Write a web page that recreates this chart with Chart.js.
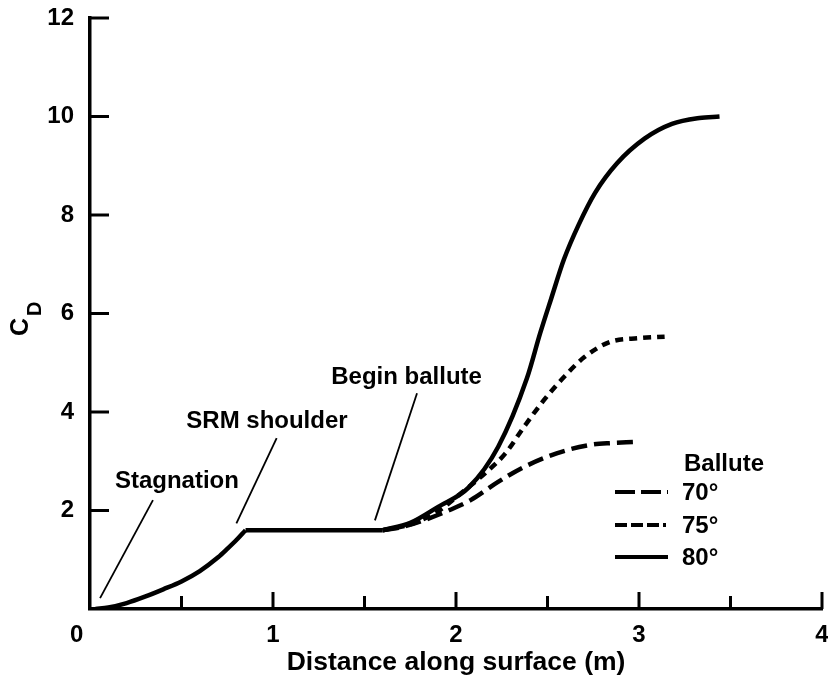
<!DOCTYPE html>
<html><head><meta charset="utf-8">
<script src="https://cdn.jsdelivr.net/npm/chart.js@4"></script>
<style>html,body{margin:0;padding:0;background:#fff}#wrap{width:828px;height:682px}</style>
</head><body><div id="wrap"><canvas id="c" width="828" height="682"></canvas></div>
<script>
// ---- data (x in m, y = C_D) ----
const riseX = [0.03, 0.1, 0.2, 0.3, 0.4, 0.5, 0.6, 0.7, 0.75, 0.8, 0.85];
const riseY = [0.0, 0.03, 0.12, 0.25, 0.4, 0.56, 0.77, 1.05, 1.22, 1.4, 1.6];
const flatX = [0.85, 1.6];
const flatY = [1.6, 1.6];
const x70 = [1.6, 1.7, 1.83, 1.96, 2.08, 2.23, 2.37, 2.55, 2.73, 2.85, 2.97];
const y70 = [1.6, 1.66, 1.81, 2.0, 2.21, 2.58, 2.88, 3.16, 3.33, 3.37, 3.39];
const x75 = [1.6, 1.75, 1.9, 2.01, 2.16, 2.27, 2.37, 2.48, 2.59, 2.70, 2.84, 3.0, 3.14];
const y75 = [1.6, 1.72, 1.98, 2.3, 2.76, 3.16, 3.69, 4.24, 4.71, 5.11, 5.42, 5.5, 5.53];
const x80 = [1.6, 1.75, 1.9, 2.07, 2.23, 2.388, 2.46, 2.52, 2.59, 2.67, 2.76, 2.88, 3.03, 3.18, 3.33, 3.44];
const y80 = [1.6, 1.75, 2.07, 2.47, 3.29, 4.69, 5.6, 6.3, 7.1, 7.8, 8.45, 9.05, 9.55, 9.85, 9.97, 10.0];
const seriesLabels = ['70°', '75°', '80°'];
const xTitle = 'Distance along surface (m)';
const legendTitle = 'Ballute';
const annTexts = ['Stagnation', 'SRM shoulder', 'Begin ballute'];

const FONT = "'Liberation Sans', Arial, Helvetica, sans-serif";
const pts = (xs, ys) => xs.map((x, i) => ({x: x, y: ys[i]}));

// annotation placement (data units)
const annPos = [
  {tx: 0.475, ty: 2.6, lx1: 0.055, ly1: 0.22, lx2: 0.344, ly2: 2.21},
  {tx: 0.967, ty: 3.81, lx1: 0.80, ly1: 1.74, lx2: 1.02, ly2: 3.47},
  {tx: 1.73, ty: 4.7, lx1: 1.557, ly1: 1.80, lx2: 1.787, ly2: 4.38}
];
const dashes = [[16, 7], [8, 6], []];

const extras = {
  id: 'extras',
  afterDatasetsDraw(chart) {
    const ctx = chart.ctx, xs = chart.scales.x, ys = chart.scales.y, ca = chart.chartArea;
    ctx.save();
    ctx.strokeStyle = '#000'; ctx.fillStyle = '#000';
    // inward ticks
    ctx.lineWidth = 3; ctx.lineCap = 'butt';
    xs.ticks.forEach(t => {
      if (t.value === 0) return;
      const px = xs.getPixelForValue(t.value);
      const len = Number.isInteger(t.value) ? 17 : 13;
      ctx.beginPath(); ctx.moveTo(px, ca.bottom); ctx.lineTo(px, ca.bottom - len); ctx.stroke();
    });
    ys.ticks.forEach(t => {
      if (t.value === 0) return;
      const py = ys.getPixelForValue(t.value);
      ctx.beginPath(); ctx.moveTo(ca.left, py); ctx.lineTo(ca.left + 19, py); ctx.stroke();
    });
    // annotations
    ctx.lineWidth = 1.8;
    ctx.font = 'bold 24px ' + FONT; ctx.textAlign = 'center'; ctx.textBaseline = 'middle';
    annPos.forEach((a, i) => {
      ctx.beginPath();
      ctx.moveTo(xs.getPixelForValue(a.lx1), ys.getPixelForValue(a.ly1));
      ctx.lineTo(xs.getPixelForValue(a.lx2), ys.getPixelForValue(a.ly2));
      ctx.stroke();
      ctx.fillText(annTexts[i], xs.getPixelForValue(a.tx), ys.getPixelForValue(a.ty));
    });
    // legend
    const lx = ca.left + 525, ltx = ca.left + 592;
    ctx.textAlign = 'left';
    ctx.fillText(legendTitle, ltx + 2, 464);
    const rowsY = [492, 525, 557];
    ctx.lineWidth = 4;
    seriesLabels.forEach((s, i) => {
      ctx.setLineDash(i === 0 ? [20, 6, 20, 6, 3, 100] : (i === 1 ? [12, 4, 12, 4, 12, 4, 3, 100] : []));
      ctx.beginPath(); ctx.moveTo(lx, rowsY[i]); ctx.lineTo(lx + 53, rowsY[i]); ctx.stroke();
      ctx.setLineDash([]);
      ctx.fillText(s, ltx, rowsY[i] + 1);
    });
    // y axis title C_D
    ctx.save();
    ctx.translate(28, 336); ctx.rotate(-Math.PI / 2);
    ctx.textBaseline = 'alphabetic'; ctx.textAlign = 'left';
    ctx.font = 'bold 25px ' + FONT; ctx.fillText('C', 0, 0);
    ctx.font = 'bold 20px ' + FONT; ctx.fillText('D', 20, 13);
    ctx.restore();
    ctx.restore();
  }
};

const lineDs = (data, dash) => ({
  data: data, borderColor: '#000', borderWidth: 4.5, borderDash: dash,
  pointRadius: 0, fill: false, cubicInterpolationMode: 'monotone', borderCapStyle: 'butt'
});

new Chart(document.getElementById('c'), {
  type: 'line',
  data: {
    datasets: [
      lineDs(pts(riseX, riseY), []),
      lineDs(pts(flatX, flatY), []),
      Object.assign(lineDs(pts(x70, y70), dashes[0]), {label: seriesLabels[0]}),
      Object.assign(lineDs(pts(x75, y75), dashes[1]), {label: seriesLabels[1]}),
      Object.assign(lineDs(pts(x80, y80), dashes[2]), {label: seriesLabels[2]})
    ]
  },
  options: {
    responsive: false, animation: false, devicePixelRatio: 1,
    layout: {padding: {top: 18, right: 6, left: 0, bottom: 0}},
    plugins: {legend: {display: false}, tooltip: {enabled: false}},
    scales: {
      x: {
        type: 'linear', min: 0, max: 4,
        ticks: {
          stepSize: 0.5, autoSkip: false, maxRotation: 0, padding: 12, color: '#000',
          font: {family: FONT, size: 24, weight: 'bold'},
          callback: v => Number.isInteger(v) ? (v === 0 ? '0\u2007\u2007' : String(v)) : ''
        },
        grid: {display: false, drawTicks: false},
        border: {display: true, width: 3.5, color: '#000'},
        title: {display: true, text: xTitle, color: '#000', font: {family: FONT, size: 26.5, weight: 'bold'}, padding: {top: 0, bottom: 3}},
        afterFit: s => { s.height = 73; s.paddingLeft = 0; s.paddingRight = 0; }
      },
      y: {
        min: 0, max: 12,
        ticks: {
          stepSize: 2, padding: 16, color: '#000',
          font: {family: FONT, size: 24, weight: 'bold'},
          callback: v => v === 0 ? '' : String(v)
        },
        grid: {display: false, drawTicks: false},
        border: {display: true, width: 3.5, color: '#000'},
        afterFit: s => { s.width = 90; s.paddingTop = 0; s.paddingBottom = 0; }
      }
    }
  },
  plugins: [extras]
});
</script>
</body></html>
